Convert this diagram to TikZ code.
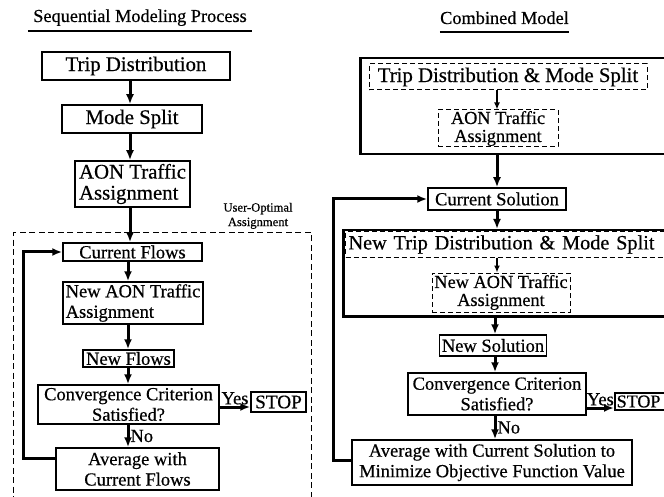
\documentclass[tikz,border=0pt]{standalone}
\usepackage{fontspec}
\setmainfont{Liberation Serif}[FakeBold=0.5]
\usetikzlibrary{arrows.meta}

\tikzset{
  big/.style={font=\fontsize{20.8}{21}\selectfont},
  bigw/.style={font=\fontsize{20.3}{21}\selectfont},
  mid/.style={font=\fontsize{18.5}{20.5}\selectfont},
  midtight/.style={font=\fontsize{18.3}{18}\selectfont},
  stopfont/.style={font=\fontsize{19.2}{20}\selectfont},
  stopsmall/.style={font=\fontsize{18}{20}\selectfont},
  ttl/.style={font=\fontsize{18.3}{20}\selectfont},
  tiny/.style={font=\fontsize{12.6}{14.5}\selectfont},
  box/.style={draw, line width=1.5pt, inner sep=0pt, align=center},
  dbox/.style={draw, line width=1pt, dash pattern=on 5pt off 3pt, inner sep=0pt, align=center},
  obox/.style={draw, line width=2.5pt, inner sep=0pt},
  region/.style={draw, line width=1.1pt, dash pattern=on 6pt off 3.5pt, inner sep=0pt},
  flowarr/.style={draw, line width=3pt, -{Latex[length=10pt,width=8pt]}},
  thinarr/.style={draw, line width=1.5pt, -{Latex[length=7pt,width=6pt]}},
  lbl/.style={mid, inner sep=1pt},
}

\begin{document}
\begin{tikzpicture}[x=1pt, y=-1pt]
\useasboundingbox (0,0) rectangle (664,497);
\clip (0,0) rectangle (664,497);
\fill[white] (0,0) rectangle (664,497);

% ---------------- Sequential modeling process ----------------
\node[ttl, anchor=base, inner sep=0pt, minimum width=224pt] (ttlA) at (140,22) {Sequential Modeling Process};
\coordinate (ulA) at (0,31);
\draw[line width=1.1pt] (ttlA.west |- ulA) -- (ttlA.east |- ulA);

\node[box, big, minimum width=188pt, minimum height=28pt] (td) at (136,66) {Trip Distribution};
\node[box, big, minimum width=140pt, minimum height=28pt] (ms) at (132,119) {Mode Split};
\node[box, big, align=left, minimum width=115pt, minimum height=46pt] (aon) at (132.5,184) {AON Traffic\\Assignment};

% user-optimal assignment loop
\node[region, anchor=north west, minimum width=298pt, minimum height=290pt] (uo) at (13,232) {};
\node[tiny, align=center, anchor=south, inner sep=1pt] (uolab) at (258,230) {User-Optimal\\Assignment};

\node[box, mid, minimum width=139pt, minimum height=18pt] (cf) at (132.5,252) {Current Flows};
\node[box, mid, align=left, minimum width=140pt, minimum height=42pt] (na) at (133,303) {New AON Traffic\\Assignment};
\node[box, mid, minimum width=91pt, minimum height=17pt] (nf) at (128.5,358.5) {New Flows};
\node[box, mid, minimum width=181pt, minimum height=39pt] (cv) at (128.5,404.5) {Convergence Criterion\\Satisfied?};
\node[box, stopfont, minimum width=55pt, minimum height=20pt] (st) at (278.5,402) {STOP};
\node[box, mid, minimum width=163pt, minimum height=42pt] (av) at (137.5,469) {Average with\\Current Flows};

\coordinate (colA) at (130,0);
\coordinate (colB) at (128,0);
\path[flowarr] (td.south -| colA) -- (ms.north -| colA);
\path[flowarr] (ms.south -| colA) -- (aon.north -| colA);
\path[flowarr] (aon.south -| colA) -- (cf.north -| colA);
\path[flowarr] (cf.south -| colB) -- (na.north -| colB);
\path[flowarr] (na.south -| colB) -- (nf.north -| colB);
\path[flowarr] (nf.south -| colB) -- (cv.north -| colB);
\path[flowarr] (cv.south -| colB) -- node[lbl, right] {No} (av.north -| colB);
\coordinate (yA) at (0,407);
\path[flowarr] (cv.east |- yA) -- node[lbl, above] {Yes} (st.west |- yA);
\coordinate (fbA) at (23,458);
\path[flowarr] (av.west |- fbA) -- (fbA) |- (cf.west);

% ---------------- Combined model ----------------
\node[ttl, anchor=base, inner sep=0pt, minimum width=129pt] (ttlB) at (504.5,24) {Combined Model};
\coordinate (ulB) at (0,32);
\draw[line width=1.1pt] (ttlB.west |- ulB) -- (ttlB.east |- ulB);

\node[obox, anchor=north west, minimum width=330pt, minimum height=96pt] (ob1) at (359,57) {};
\node[dbox, big, minimum width=278pt, minimum height=26pt] (dtd) at (508,77) {Trip Distribution \& Mode Split};
\node[dbox, midtight, minimum width=120pt, minimum height=37pt] (dao) at (498,128.5) {AON Traffic\\Assignment};

\node[box, mid, minimum width=138pt, minimum height=22pt] (cs) at (497,199) {Current Solution};

\node[obox, anchor=north west, minimum width=340pt, minimum height=86pt] (ob2) at (342,229) {};
\node[dbox, bigw, anchor=west, text width=317pt, align=left, inner xsep=3pt, minimum height=25pt] (dntd) at (345,244.5) {New Trip Distribution \& Mode Split};
\node[dbox, midtight, minimum width=138pt, minimum height=39pt] (dnao) at (501,292.5) {New AON Traffic\\Assignment};

\node[box, mid, minimum width=107pt, minimum height=21pt] (ns) at (493,345.5) {New Solution};
\node[box, mid, minimum width=178pt, minimum height=42pt] (cv2) at (497,394) {Convergence Criterion\\Satisfied?};
\node[box, stopsmall, anchor=west, minimum height=17pt, text width=60pt, align=left, inner xsep=2pt] (st2) at (614,401.5) {STOP};
\node[box, mid, minimum width=280pt, minimum height=45pt] (av2) at (492,462.5) {Average with Current Solution to\\Minimize Objective Function Value};

\coordinate (colC) at (497,0);
\coordinate (colD) at (495,0);
\path[thinarr] (dtd.south -| colC) -- (dao.north -| colC);
\path[flowarr] (ob1.south -| colC) -- (cs.north -| colC);
\path[flowarr] (cs.south -| colC) -- (ob2.north -| colC);
\path[thinarr] (dntd.south -| colC) -- (dnao.north -| colC);
\path[flowarr] (ob2.south -| colD) -- (ns.north -| colD);
\path[flowarr] (ns.south -| colD) -- (cv2.north -| colD);
\path[flowarr] (cv2.south -| colD) -- node[lbl, right] {No} (av2.north -| colD);
\coordinate (yB) at (0,408);
\path[flowarr] (cv2.east |- yB) -- node[lbl, above] {Yes} (st2.west |- yB);
\coordinate (fbB) at (333,460);
\path[flowarr] (av2.west |- fbB) -- (fbB) |- (cs.west);
\end{tikzpicture}
\end{document}
